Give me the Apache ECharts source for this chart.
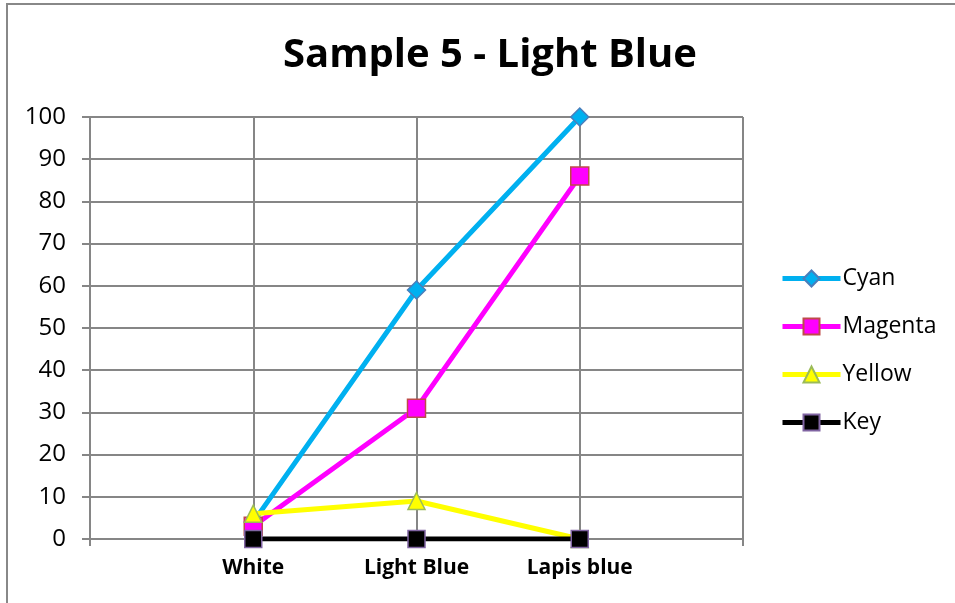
<!DOCTYPE html>
<html>
<head>
<meta charset="utf-8">
<script src="https://cdn.jsdelivr.net/npm/echarts@6/dist/echarts.min.js"></script>
<style>html,body{margin:0;padding:0;background:#fff;}#c{width:955px;height:603px;}</style>
</head>
<body>
<div id="c"></div>
<script>
const titleText = 'Sample 5 - Light Blue';
const categories = ['White', 'Light Blue', 'Lapis blue'];
const cyan = [4, 59, 100];
const magenta = [3, 31, 86];
const yellow = [6, 9, 0];
const key = [0, 0, 0];
const seriesNames = ['Cyan', 'Magenta', 'Yellow', 'Key'];

// category axis has an empty slot on each side of the data
const axisCats = [''].concat(categories, ['']);
const pad = arr => [null].concat(arr, [null]);

const chart = echarts.init(document.getElementById('c'));
const grey = '#868686';
const mk = (name, data, color, symbol, size, border) => ({
  name, type: 'line', data: pad(data), symbol, symbolSize: size,
  lineStyle: { color, width: 5 },
  itemStyle: { color, borderColor: border, borderWidth: 1.5 },
  connectNulls: false, animation: false
});
chart.setOption({
  animation: false,
  title: {
    text: titleText, left: 485, top: 31, textAlign: 'center',
    textStyle: { fontFamily: 'Open Sans', fontWeight: 'bold', fontSize: 40, color: '#000' }
  },
  grid: { left: 90, right: 212, top: 117, bottom: 64 },
  legend: {
    orient: 'vertical', left: 775, top: 262, itemGap: 25, itemWidth: 58, itemHeight: 20,
    lineStyle: { width: 5 },
    textStyle: { fontFamily: 'Open Sans', fontSize: 23, color: '#000', padding: [0, 0, 0, -3] },
    data: seriesNames
  },
  xAxis: {
    type: 'category', data: axisCats, boundaryGap: false,
    axisLine: { lineStyle: { color: grey, width: 2 } },
    axisTick: { show: true, length: 7, interval: 0, lineStyle: { color: grey, width: 2 } },
    splitLine: { show: true, interval: 0, lineStyle: { color: grey, width: 2 } },
    axisLabel: { interval: 0, margin: 19, fontFamily: 'Open Sans', fontWeight: 'bold', fontSize: 21, color: '#000' }
  },
  yAxis: {
    type: 'value', min: 0, max: 100, interval: 10,
    axisLine: { show: true, lineStyle: { color: grey, width: 2 } },
    axisTick: { show: true, length: 8, lineStyle: { color: grey, width: 2 } },
    splitLine: { show: true, lineStyle: { color: grey, width: 2 } },
    axisLabel: { margin: 24, fontFamily: 'Open Sans', fontSize: 24, color: '#000' }
  },
  graphic: [{
    type: 'rect', shape: { x: 7, y: 4, width: 1000, height: 700 },
    style: { fill: 'none', stroke: '#888', lineWidth: 2 }, silent: true
  }],
  series: [
    mk('Cyan', cyan, '#00B0F0', 'diamond', 18, '#4A7EBB'),
    mk('Magenta', magenta, '#FF00FF', 'rect', 18, '#BE4B48'),
    mk('Yellow', yellow, '#FFFF00', 'triangle', 17, '#9BBB59'),
    mk('Key', key, '#000000', 'rect', 17, '#8064A2')
  ]
});
</script>
</body>
</html>
